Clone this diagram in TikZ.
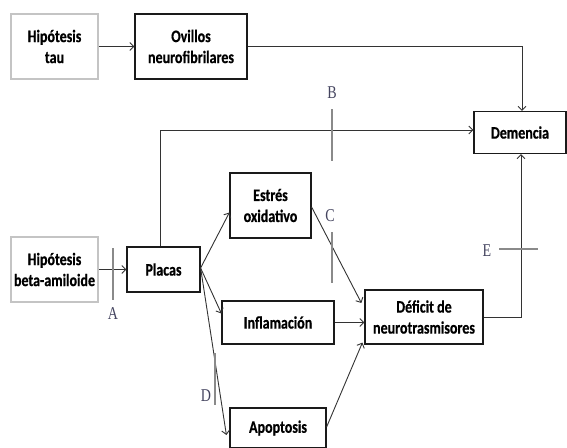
\documentclass[tikz,border=0pt]{standalone}
\usepackage{fontspec}
\setmainfont{Liberation Serif}
\newfontfamily\boxfont[FakeStretch=0.8, FakeBold=0.6]{Carlito}
\newfontfamily\letterfont[FakeStretch=0.78]{Liberation Serif}
\usetikzlibrary{arrows.meta, positioning}
\definecolor{linegray}{HTML}{333333}
\definecolor{boxline}{HTML}{1A1A1A}
\definecolor{hypline}{HTML}{C4C4C4}
\definecolor{tickgray}{HTML}{8A8A8A}
\definecolor{lettercol}{HTML}{44445F}

\begin{document}
\begin{tikzpicture}[x=1pt, y=-1pt,
        box/.style={draw=boxline, line width=1.2pt, align=center, inner sep=0pt, font=\boxfont\bfseries\fontsize{17.5}{21}\selectfont},
        hypbox/.style={box, draw=hypline, line width=1.5pt},
        arrow/.style={-{Straight Barb[length=4pt, width=8pt]}, linegray, line width=0.9pt},
        tickmark/.style={tickgray, line width=1.2pt},
        letter/.style={font=\letterfont\fontsize{18}{18}\selectfont, text=lettercol, inner sep=0pt}
    ]
        \useasboundingbox (0,0) rectangle (567,447);

        % Hipotesis
        \node[hypbox, minimum width=87pt, minimum height=65pt] (tau) at (54.5, 46.5) {Hipótesis\\tau};
        \node[hypbox, minimum width=87pt, minimum height=65pt] (beta) at (54.5, 269.5) {Hipótesis\\beta-amiloide};

        % Cajas
        \node[box, minimum width=112pt, minimum height=65pt] (ovillos) at (191, 46.5) {Ovillos\\neurofibrilares};
        \node[box, minimum width=92pt, minimum height=42pt] (demencia) at (520, 132.5) {Demencia};
        \node[box, minimum width=73pt, minimum height=45pt] (placas) at (163.5, 269.5) {Placas};
        \node[box, minimum width=81pt, minimum height=65pt] (estres) at (270.5, 205.5) {Estrés\\oxidativo};
        \node[box, minimum width=112pt, minimum height=43pt] (inflam) at (278, 322.5) {Inflamación};
        \node[box, minimum width=118pt, minimum height=54pt] (deficit) at (424, 317) {Déficit de\\neurotrasmisores};
        \node[box, minimum width=96pt, minimum height=40pt] (apoptosis) at (278, 428) {Apoptosis};

        % Flechas
        \draw[arrow] (tau) -- (ovillos);
        \draw[arrow] (ovillos.east) -| ([xshift=2pt]demencia.north);
        \draw[arrow] (beta) -- (placas);
        \draw[arrow] ([xshift=-3.5pt]placas.north) |- ([yshift=2.5pt]demencia.west);
        \draw[arrow] ([yshift=1.5pt]placas.east) -- ([yshift=-7pt]estres.west);
        \draw[arrow] ([yshift=1.5pt]placas.east) -- ([yshift=9pt]inflam.west);
        \draw[arrow] ([yshift=1.5pt]placas.east) -- ([xshift=-3pt, yshift=-7pt]apoptosis.west);
        \draw[arrow] ([yshift=-1.5pt]estres.east) -- ([xshift=-3pt, yshift=14pt]deficit.west);
        \draw[arrow] (inflam.east) -- (inflam.east -| deficit.west);
        \draw[arrow] ([yshift=1pt]apoptosis.east) -- ([xshift=-2pt, yshift=2pt]deficit.south west);
        \draw[arrow] (deficit.east) -| ([xshift=1pt]demencia.south);

        % Marcas
        \node[letter] (la) at (113, 314) {A};
        \draw[tickmark] (113, 248) -- (113, 300);
        \node[letter] (lb) at (332, 93) {B};
        \draw[tickmark] (332, 109) -- (332, 161);
        \node[letter] (lc) at (330, 216) {C};
        \draw[tickmark] (332, 232) -- (332, 283);
        \node[letter] (ld) at (206, 396) {D};
        \draw[tickmark] (215, 353) -- (215, 405);
        \node[letter] (le) at (487, 251) {E};
        \draw[tickmark] (499, 249) -- (538, 249);

    \end{tikzpicture}
\end{document}
